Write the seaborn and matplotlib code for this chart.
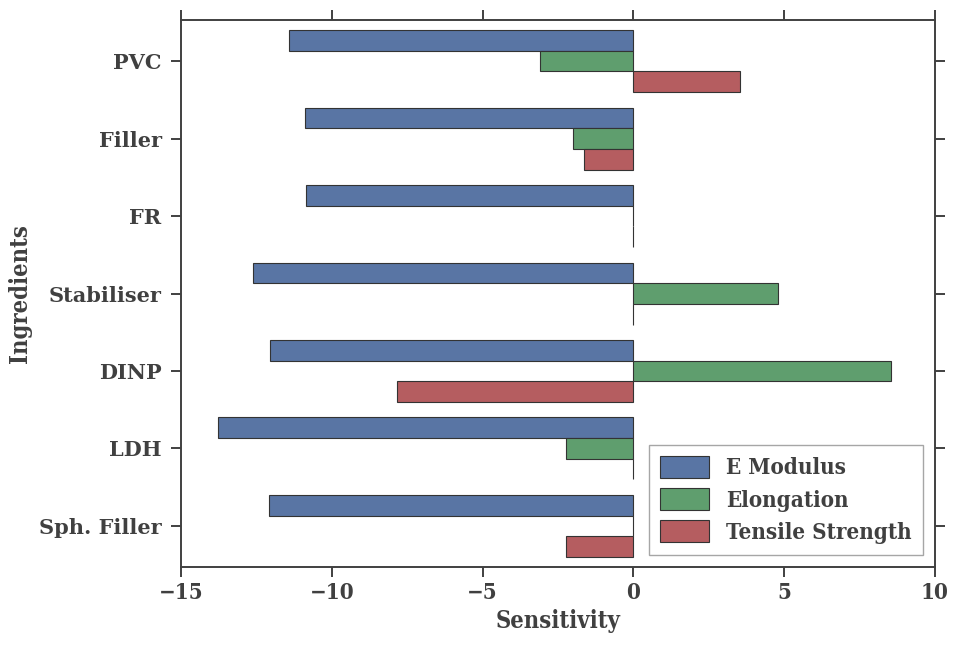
import matplotlib
matplotlib.use("Agg")
import matplotlib.pyplot as plt
import seaborn as sns
import pandas as pd

ingredients = ["PVC", "Filler", "FR", "Stabiliser", "DINP", "LDH", "Sph. Filler"]
properties = ["E Modulus", "Elongation", "Tensile Strength"]
e_modulus = [-11.43, -10.90, -10.84, -12.62, -12.04, -13.77, -12.07]
elongation = [-3.10, -2.00, 0.0, 4.79, 8.54, -2.25, 0.0]
tensile = [3.53, -1.64, 0.0, 0.0, -7.85, 0.0, -2.22]
colors = ["#4C72B0", "#55A868", "#C44E52"]

rows = []
for prop, vals in zip(properties, [e_modulus, elongation, tensile]):
    for ing, v in zip(ingredients, vals):
        rows.append({"Ingredients": ing, "Property": prop, "Sensitivity": v})
df = pd.DataFrame(rows)

sns.set_style("white")
plt.rcParams["font.family"] = ["DejaVu Serif"]
plt.rcParams["axes.edgecolor"] = "#404040"

fig = plt.figure(figsize=(9.56, 6.48), dpi=100)
ax = fig.add_axes([0.1893, 0.125, 0.978 - 0.1893, 0.969 - 0.125])

sns.barplot(data=df, y="Ingredients", x="Sensitivity", hue="Property",
            order=ingredients, hue_order=properties, orient="h",
            palette=colors, saturation=0.75, errorbar=None,
            edgecolor="#333333", linewidth=0.8, ax=ax)

ax.set_xlim(-15, 10)
ax.set_ylim(6.53, -0.53)
ax.set_xticks([-15, -10, -5, 0, 5, 10])

for s in ax.spines.values():
    s.set_visible(True)
    s.set_linewidth(1.4)
    s.set_color("#404040")

ax.tick_params(axis="both", which="major", direction="out", length=7, width=1.4,
               color="#404040", top=True, right=True, bottom=True, left=True)
ax.tick_params(axis="y", pad=7)

for lab in ax.get_yticklabels():
    lab.set_fontsize(15)
    lab.set_fontweight("bold")
    lab.set_color("#404040")
for lab in ax.get_xticklabels():
    lab.set_fontsize(16)
    lab.set_fontweight("bold")
    lab.set_fontstretch("condensed")
    lab.set_color("#404040")

ax.set_xlabel("Sensitivity", fontsize=17, fontweight="bold", fontstretch="condensed",
              color="#404040", labelpad=4)
ax.set_ylabel("Ingredients", fontsize=17, fontweight="bold", fontstretch="condensed",
              color="#404040")
ax.yaxis.set_label_coords(-0.198, 0.5)

leg = ax.legend(loc="lower right", frameon=True, fancybox=False,
                handlelength=2.2, handleheight=1.1, borderpad=0.5, labelspacing=0.4,
                handletextpad=0.75, borderaxespad=0.55,
                prop={"size": 16, "weight": "bold", "stretch": "condensed"})
leg.get_frame().set_edgecolor("#909090")
leg.get_frame().set_linewidth(1.0)
for t in leg.get_texts():
    t.set_color("#404040")

fig.savefig("out.png", dpi=100)
